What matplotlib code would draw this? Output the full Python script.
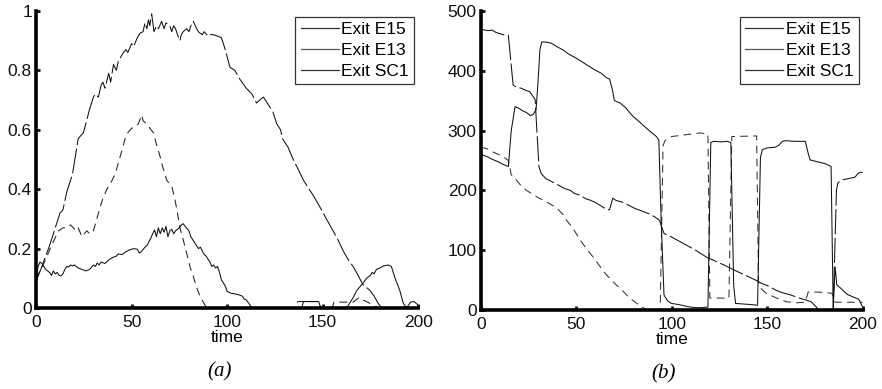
import numpy as np
import matplotlib
matplotlib.use("Agg")
from matplotlib import pyplot as plt
from matplotlib.lines import Line2D

plt.rcParams['font.family'] = ['Liberation Sans', 'DejaVu Sans']

legend_labels = ['Exit E15', 'Exit E13', 'Exit SC1']
x_ticks = [0, 50, 100, 150, 200]

# ---- panel (a): fraction ----
a_long_t = [0, 3, 7, 10, 12.5, 14, 16, 19, 22, 24.7, 26, 28, 30, 31, 32.6, 34, 35, 36, 38, 39,
            40.5, 42, 43, 45.7, 47, 48, 50, 51, 53, 54.4, 56, 57, 58, 58.8, 59.5, 60.5, 61.7, 63,
            64, 65.7, 67, 68, 70, 71, 72, 73, 74, 75.3, 76, 77, 78.8, 80, 81, 82.3, 84, 85, 85.8,
            87, 88, 90, 91, 92.8, 95, 97, 99, 101.5, 104, 106.7, 110, 113, 115.4, 117, 119, 121,
            124, 126, 128, 129, 132, 134.6, 137, 140, 143, 145, 148.6, 152, 155.5, 158, 161, 164,
            166, 168.6, 171, 174.7, 177, 179, 181, 200]
a_long_y = [0.09, 0.14, 0.21, 0.27, 0.32, 0.33, 0.39, 0.45, 0.57, 0.59, 0.62, 0.67, 0.71, 0.72,
            0.71, 0.75, 0.76, 0.74, 0.79, 0.76, 0.82, 0.80, 0.83, 0.86, 0.87, 0.86, 0.89, 0.88,
            0.91, 0.925, 0.93, 0.96, 0.94, 0.97, 0.95, 0.99, 0.93, 0.95, 0.94, 0.965, 0.94, 0.96,
            0.95, 0.93, 0.95, 0.94, 0.92, 0.90, 0.92, 0.93, 0.94, 0.93, 0.95, 0.965, 0.94, 0.93,
            0.925, 0.92, 0.93, 0.915, 0.92, 0.92, 0.915, 0.91, 0.87, 0.81, 0.80, 0.77, 0.74, 0.72,
            0.69, 0.70, 0.71, 0.69, 0.66, 0.62, 0.60, 0.57, 0.54, 0.50, 0.47, 0.43, 0.40, 0.38,
            0.34, 0.30, 0.26, 0.23, 0.19, 0.157, 0.14, 0.11, 0.08, 0.06, 0.04, 0.017, 0, 0]

a_short_t = [0, 4, 8, 11.7, 14, 16, 18, 21, 22, 24, 26.5, 28, 30, 33.5, 35, 37, 39, 41.3, 44,
             46.6, 48, 50, 52, 53.5, 55.3, 56, 57.9, 59, 61.4, 63, 64.9, 66.5, 68.4, 71, 72.7, 74,
             75.3, 77, 78.8, 80.5, 82.3, 84, 85.8, 87.5, 89.3, 136, 137, 148, 149, 155, 156, 166,
             169, 172, 176, 179, 200]
a_short_y = [0.10, 0.15, 0.21, 0.26, 0.27, 0.27, 0.28, 0.26, 0.27, 0.24, 0.26, 0.25, 0.26, 0.34,
             0.37, 0.40, 0.42, 0.45, 0.51, 0.57, 0.59, 0.605, 0.61, 0.62, 0.65, 0.63, 0.62, 0.61,
             0.59, 0.55, 0.51, 0.47, 0.43, 0.41, 0.365, 0.32, 0.27, 0.23, 0.185, 0.14, 0.106, 0.07,
             0.04, 0.02, 0, 0, 0.022, 0.022, 0, 0, 0.02, 0.02, 0.035, 0.025, 0.012, 0, 0]

a_solid_t = [0, 1, 2, 3, 4, 5, 6, 7, 8, 9, 10, 11, 12, 13, 14, 15, 16, 17, 18, 19, 20, 22, 24,
             26, 28, 30, 31, 32, 33, 34, 36, 38, 40, 42, 43, 45, 47, 49, 51, 53, 54, 55, 57, 58,
             60, 61, 62, 63, 64, 65, 66, 67, 68, 69, 70, 71, 72, 73, 75, 76, 77, 78, 80, 81, 83,
             85, 86, 88, 89, 90, 91, 92, 93, 94, 95, 96, 97, 99, 100, 102, 104, 106, 108, 109,
             110, 112, 113, 139, 140, 148, 149, 162.5, 166, 168, 171.2, 173, 175, 176, 177, 178.2,
             180, 182, 184.3, 186, 188, 190.4, 192.2, 194, 196, 198, 200]
a_solid_y = [0.09, 0.14, 0.155, 0.15, 0.14, 0.13, 0.125, 0.12, 0.11, 0.125, 0.115, 0.12, 0.11,
             0.108, 0.115, 0.13, 0.14, 0.138, 0.145, 0.142, 0.145, 0.135, 0.13, 0.125, 0.13,
             0.145, 0.14, 0.152, 0.145, 0.155, 0.15, 0.162, 0.17, 0.175, 0.182, 0.18, 0.19, 0.196,
             0.2, 0.198, 0.185, 0.19, 0.205, 0.21, 0.235, 0.25, 0.263, 0.24, 0.27, 0.25, 0.27,
             0.255, 0.275, 0.24, 0.26, 0.265, 0.25, 0.26, 0.27, 0.28, 0.284, 0.275, 0.26, 0.24,
             0.22, 0.2, 0.205, 0.18, 0.175, 0.165, 0.155, 0.14, 0.145, 0.135, 0.14, 0.12, 0.095,
             0.075, 0.056, 0.05, 0.048, 0.045, 0.04, 0.03, 0.028, 0.01, 0, 0, 0.022, 0.022, 0, 0,
             0.035, 0.06, 0.084, 0.1, 0.11, 0.12, 0.115, 0.13, 0.135, 0.142, 0.145, 0.14, 0.1,
             0.06, 0.017, 0, 0.02, 0.022, 0.01]

# ---- panel (b): counts ----
b_long_t = [0, 2, 4, 6, 8, 10, 12, 14.5, 15.2, 17, 19, 21, 23, 25.6, 27.4, 28.5, 30.5, 31.7, 34,
            37, 40, 44, 47, 49, 52, 55, 57, 60, 63, 66.6, 67.5, 69.2, 71, 73.6, 77, 80.6, 84, 88,
            91, 93.6, 96, 100, 104, 108, 112, 116, 119, 121.5, 124, 127.6, 132, 136, 140, 144,
            146.8, 150, 154.7, 158, 162.5, 166, 170, 173, 175.6, 177, 184.6, 186.3, 187, 188, 190,
            193, 196, 197.5, 198.5, 200]
b_long_y = [470, 468, 467, 468, 464, 462, 460, 459, 435, 376, 372, 371, 368, 365, 357, 352, 240,
            228, 220, 215, 210, 203, 200, 195, 192, 186, 184, 180, 174, 167, 168, 187, 183, 181,
            176, 170, 166, 161, 156, 150, 128, 122, 115, 108, 101, 93, 87, 84, 80, 75, 68, 62, 56,
            50, 45, 41, 33, 29, 25, 21, 17, 14, 5.6, 0, 0, 200, 212, 215, 218, 220, 222, 228, 230,
            230]

b_short_t = [0, 3, 5, 8, 12, 14.5, 16, 18, 20, 22, 24, 27, 30, 33, 36, 40, 43, 45, 48, 50, 53,
             56, 59, 62, 65, 67, 70, 72, 75, 78, 81, 84, 87, 94, 95.5, 96.5, 100, 105, 110, 115,
             119, 120, 123, 130, 131.5, 144.5, 145.5, 147, 150, 155, 160, 165, 170, 171.5, 177,
             184, 185.5, 200]
b_short_y = [272, 270, 266, 262, 256, 250, 226, 220, 212, 205, 200, 194, 188, 183, 178, 170, 160,
             150, 138, 128, 113, 100, 88, 75, 62, 55, 45, 39, 30, 20, 13, 6, 0, 0, 275, 283, 290,
             292, 294, 296, 294, 20, 20, 20, 290, 291, 45, 35, 27, 20, 14, 12, 13, 30, 30, 28, 13,
             13]

b_solid_t = [0, 3, 6, 9, 12, 14.5, 16, 17, 18, 20, 22, 24, 26, 27.5, 29, 30, 31, 32, 34, 37, 40,
             43, 46, 50, 53, 56, 60, 63, 66, 67.5, 69, 70, 73, 76, 78, 80, 83, 86, 89, 92, 93.3,
             94.5, 96, 98, 100, 104, 108, 112, 116, 119, 120.5, 122, 126, 129, 131, 132.5, 133.5,
             138, 142, 145, 146.5, 147.5, 150, 154, 156, 158, 160, 164, 168, 170, 171.5, 172.5,
             176, 180, 183.5, 184.6, 185.6, 186.5, 188, 190, 192, 195, 198, 200]
b_solid_y = [260, 257, 252, 248, 243, 240, 300, 320, 340, 337, 333, 330, 325, 327, 335, 380, 435,
             448, 448, 446, 440, 435, 428, 421, 415, 409, 401, 396, 388, 386, 368, 350, 346, 338,
             330, 323, 315, 306, 298, 290, 284, 150, 25, 15, 11, 9, 6, 4, 4, 5, 280, 282, 281, 282,
             280, 40, 11, 10, 9, 8, 255, 268, 271, 272, 275, 282, 283, 282, 282, 282, 262, 251,
             248, 245, 240, 3, 72, 42, 38, 32, 26, 22, 18, 5]

LW = 0.75
long_dash = (0, (24, 3.5))
short_dash = (0, (7.5, 5))


def draw_panel(ax, series, ymax, yticks, ylabels, caption):
    for t, y, ls, col in series:
        ax.plot(t, y, color=col, lw=LW, linestyle=ls)
    ax.set_xlim(0, 200)
    ax.set_ylim(0, ymax)
    ax.set_xticks(x_ticks)
    ax.set_yticks(yticks)
    ax.set_yticklabels(ylabels)
    for side in ['top', 'right']:
        ax.spines[side].set_visible(False)
    for side in ['left', 'bottom']:
        ax.spines[side].set_linewidth(2.6)
        ax.spines[side].set_capstyle('projecting')
    ax.tick_params(direction='in', length=3, width=2, labelsize=12.5, colors='#111111', pad=3)
    ax.tick_params(axis='x', pad=5)
    ax.set_xlabel('time', fontsize=12.5, labelpad=0)
    handles = [Line2D([], [], color=c, lw=0.9) for c in ['#333333', '#555555', '#333333']]
    leg = ax.legend(handles, legend_labels, loc='upper right', bbox_to_anchor=(0.99, 0.98),
                    fontsize=12.5, frameon=True, fancybox=False, handlelength=2.2,
                    handletextpad=0.15, labelspacing=0.32, borderpad=0.3, borderaxespad=0)
    leg.get_frame().set_edgecolor('black')
    leg.get_frame().set_linewidth(0.9)
    ax.text(0.48, -0.215, caption, transform=ax.transAxes, ha='center', va='center',
            fontsize=15, family='Liberation Serif', style='italic')


fig = plt.figure(figsize=(8.82, 3.89), dpi=100)
ax_a = fig.add_axes([0.041, 0.208, 0.433, 0.764])
ax_b = fig.add_axes([0.545, 0.203, 0.433, 0.769])

draw_panel(ax_a,
           [(a_long_t, a_long_y, long_dash, '#111111'),
            (a_short_t, a_short_y, short_dash, '#222222'),
            (a_solid_t, a_solid_y, '-', '#111111')],
           1, [0, 0.2, 0.4, 0.6, 0.8, 1], ['0', '0.2', '0.4', '0.6', '0.8', '1'], '(a)')
draw_panel(ax_b,
           [(b_long_t, b_long_y, long_dash, '#111111'),
            (b_short_t, b_short_y, short_dash, '#333333'),
            (b_solid_t, b_solid_y, '-', '#111111')],
           500, [0, 100, 200, 300, 400, 500], ['0', '100', '200', '300', '400', '500'], '(b)')

fig.savefig('out.png', dpi=100)
